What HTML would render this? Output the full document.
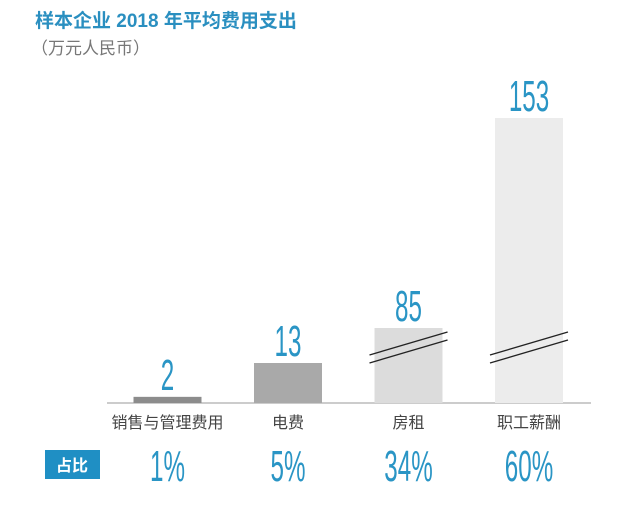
<!DOCTYPE html>
<html><head><meta charset="utf-8"><style>
body{margin:0;background:#fff;width:640px;height:508px;overflow:hidden;font-family:"Liberation Sans","Noto Sans CJK SC",sans-serif}
</style></head><body>
<svg width="640" height="508" xmlns="http://www.w3.org/2000/svg">
<text x="35" y="27" font-size="19" font-weight="bold" fill="#2a8fc0" font-family="Liberation Sans, Noto Sans CJK SC, sans-serif">样本企业 2018 年平均费用支出</text>
<text x="31" y="54" font-size="17" fill="#777" font-family="Liberation Sans, Noto Sans CJK SC, sans-serif">（万元人民币）</text>
<line x1="107" y1="403" x2="591" y2="403" stroke="#bbb" stroke-width="1.5"/>
<rect x="45" y="450" width="55" height="29" fill="#1f8fc4"/>
<text x="72" y="471" font-size="16" font-weight="bold" fill="#fff" text-anchor="middle" font-family="Liberation Sans, Noto Sans CJK SC, sans-serif">占比</text>
<g id="bars"></g>
</svg>
<script>
const categories=["销售与管理费用","电费","房租","职工薪酬"];
const values=[2,13,85,153];
const shares=["1%","5%","34%","60%"];
const colors=["#8c8c8c","#a9a9a9","#dcdcdc","#ececec"];
const broken=[false,false,true,true];
const NS="http://www.w3.org/2000/svg";
const base=403;
// piecewise (broken) axis
function yScale(v){
  if(v<=13) return base-v*(40/13);
  if(v<=85) return base-40-(v-13)*(35/72);
  return base-75-(v-85)*(210/68);
}
function xCenter(i){return 167.5+i*120.5;}
const g=document.getElementById('bars');
function mk(tag,attrs){const e=document.createElementNS(NS,tag);for(const k in attrs)e.setAttribute(k,attrs[k]);g.appendChild(e);return e;}
values.forEach((v,i)=>{
  const cx=xCenter(i),w=68,top=yScale(v);
  const r=mk('rect',{x:cx-w/2,y:top,width:w,height:base-top,fill:colors[i]});
  
  
  const t=mk('text',{x:0,y:0,'font-size':44,fill:'#2a95c5','text-anchor':'middle',transform:`translate(${cx},${top-7}) scale(0.55,1)`});
  t.textContent=v;
  
  
  const c=mk('text',{x:cx,y:428,'font-size':16,fill:'#444','text-anchor':'middle'});
  c.textContent=categories[i];
  
  
  const s=mk('text',{x:0,y:0,'font-size':44,fill:'#2a95c5','text-anchor':'middle',transform:`translate(${cx},${481}) scale(0.55,1)`});
  s.textContent=shares[i];
  
  
  if(broken[i]){
    [0,8].forEach(d=>{
      const l=mk('line',{x1:cx-39,y1:355+d,x2:cx+39,y2:332+d,stroke:'#222','stroke-width':1.3});
      
      
    });
  }
});
</script>
</body></html>
